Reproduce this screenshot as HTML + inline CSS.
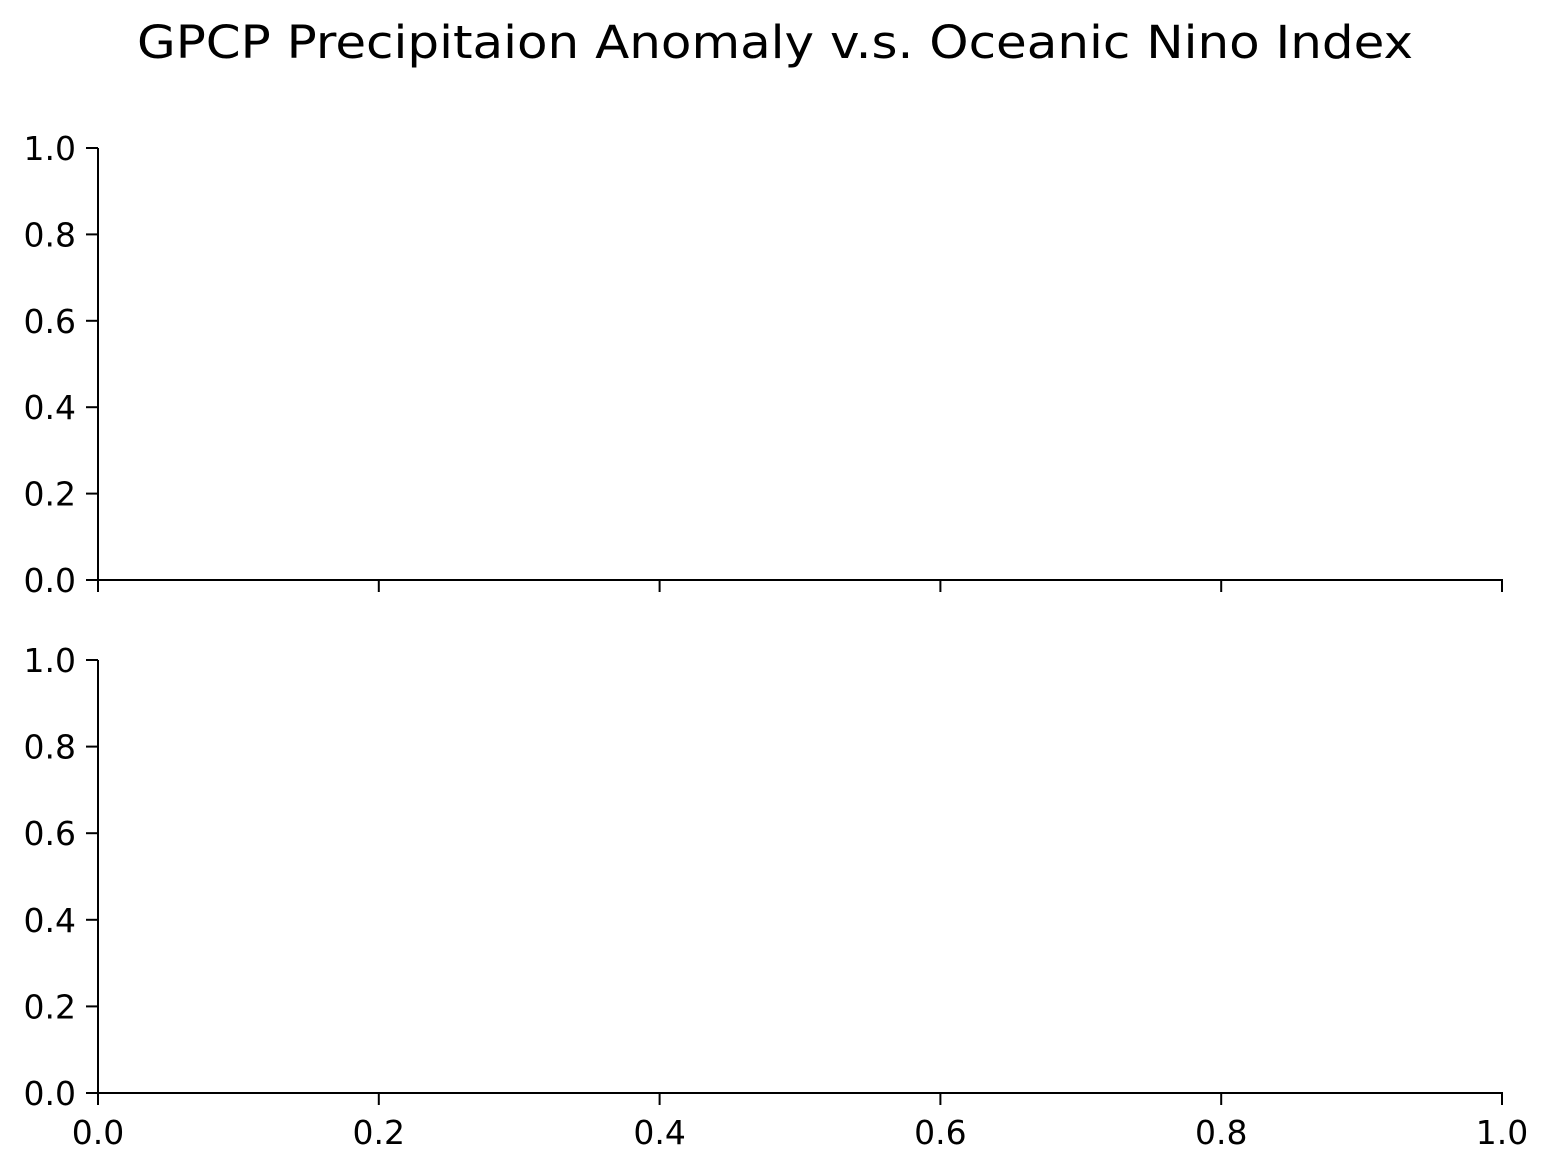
<!DOCTYPE html>
<html><head><meta charset="utf-8"><style>
html,body{margin:0;padding:0;background:#fff;}
svg{display:block;font-family:"DejaVu Sans","Liberation Sans",sans-serif;}
</style></head><body>
<svg id="fig" width="1550" height="1171" viewBox="0 0 1550 1171" xmlns="http://www.w3.org/2000/svg">
<rect width="1550" height="1171" fill="#fff"/>
<text x="137" y="58" font-size="45" textLength="1276" lengthAdjust="spacingAndGlyphs">GPCP Precipitaion Anomaly v.s. Oceanic Nino Index</text>
<g id="axes"></g>
</svg>
<script>
const yTicks=[0,0.2,0.4,0.6,0.8,1.0];
const xTicks=[0,0.2,0.4,0.6,0.8,1.0];
const panels=[{name:'top-panel',top:148,bottom:580,xlabels:false},{name:'bottom-panel',top:660,bottom:1093,xlabels:true}];
const X0=98,X1=1502,TL=12;
const NS='http://www.w3.org/2000/svg';
const g=document.getElementById('axes');
function mk(t,a,p){const e=document.createElementNS(NS,t);for(const k in a)e.setAttribute(k,a[k]);(p||g).appendChild(e);return e;}
panels.forEach(p=>{
  const pg=mk('g',{});
  
  
  const sx=v=>X0+(X1-X0)*v, sy=v=>p.bottom-(p.bottom-p.top)*v;
  const ya=mk('line',{x1:X0,x2:X0,y1:p.top,y2:p.bottom,stroke:'#000','stroke-width':2},pg);
  
  
  const xa=mk('line',{x1:X0-1,x2:X1+1,y1:p.bottom,y2:p.bottom,stroke:'#000','stroke-width':2},pg);
  
  
  yTicks.forEach(v=>{
    const y=sy(v);
    mk('line',{x1:X0-TL,x2:X0,y1:y,y2:y,stroke:'#000','stroke-width':2},pg);
    const t=mk('text',{x:X0-22,y:y+12,'font-size':33,'text-anchor':'end'},pg);
    t.textContent=v.toFixed(1);
    
    
  });
  xTicks.forEach(v=>{
    const x=sx(v);
    mk('line',{x1:x,x2:x,y1:p.bottom,y2:p.bottom+TL,stroke:'#000','stroke-width':2},pg);
    if(p.xlabels){
      const t=mk('text',{x:x,y:p.bottom+51,'font-size':33,'text-anchor':'middle'},pg);
      t.textContent=v.toFixed(1);
      
      
    }
  });
});
</script>
</body></html>
